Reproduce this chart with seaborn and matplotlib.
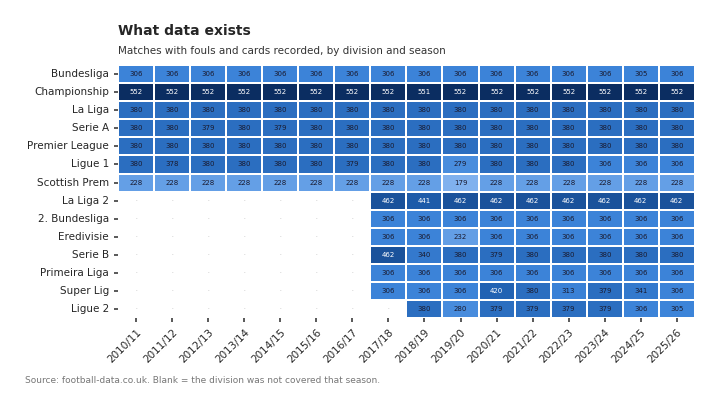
import numpy as np
import pandas as pd
import matplotlib
matplotlib.use("Agg")
import matplotlib.pyplot as plt
from matplotlib.colors import LinearSegmentedColormap
import seaborn as sns

sns.set_theme(style="white")

seasons = ["2010/11", "2011/12", "2012/13", "2013/14", "2014/15", "2015/16", "2016/17", "2017/18",
           "2018/19", "2019/20", "2020/21", "2021/22", "2022/23", "2023/24", "2024/25", "2025/26"]
divisions = ["Bundesliga", "Championship", "La Liga", "Serie A", "Premier League", "Ligue 1",
             "Scottish Prem", "La Liga 2", "2. Bundesliga", "Eredivisie", "Serie B",
             "Primeira Liga", "Super Lig", "Ligue 2"]
n = np.nan
bundesliga = [306] * 14 + [305, 306]
championship = [552] * 8 + [551] + [552] * 7
la_liga = [380] * 16
serie_a = [380, 380, 379, 380, 379] + [380] * 11
premier_league = [380] * 16
ligue_1 = [380, 378, 380, 380, 380, 380, 379, 380, 380, 279, 380, 380, 380, 306, 306, 306]
scottish_prem = [228] * 9 + [179] + [228] * 6
la_liga_2 = [n] * 7 + [462, 441, 462, 462, 462, 462, 462, 462, 462]
bundesliga_2 = [n] * 7 + [306] * 9
eredivisie = [n] * 7 + [306, 306, 232, 306, 306, 306, 306, 306, 306]
serie_b = [n] * 7 + [462, 340, 380, 379, 380, 380, 380, 380, 380]
primeira_liga = [n] * 7 + [306] * 9
super_lig = [n] * 7 + [306, 306, 306, 420, 380, 313, 379, 341, 306]
ligue_2 = [n] * 8 + [380, 280, 379, 379, 379, 379, 306, 305]

rows = [bundesliga, championship, la_liga, serie_a, premier_league, ligue_1, scottish_prem,
        la_liga_2, bundesliga_2, eredivisie, serie_b, primeira_liga, super_lig, ligue_2]
df = pd.DataFrame(rows, index=divisions, columns=seasons)

cmap = LinearSegmentedColormap.from_list(
    "cov", ["#84b4ef", "#3d85da", "#1f5fb0", "#0a2a5c"])

fig = plt.figure(figsize=(7.2, 4.09), dpi=100)
ax = fig.add_axes([0.164, 0.222, 0.801, 0.619])
sns.heatmap(df, ax=ax, cmap=cmap, vmin=170, vmax=560, cbar=False, linewidths=1.2,
            linecolor="white", annot=False)

vals = df.values
for i in range(vals.shape[0]):
    for j in range(vals.shape[1]):
        v = vals[i, j]
        if np.isnan(v):
            ax.text(j + 0.5, i + 0.5, "·", ha="center", va="center", fontsize=4, color="#999999")
        else:
            ax.text(j + 0.5, i + 0.5, f"{int(v)}", ha="center", va="center", fontsize=5,
                    color="white" if v >= 400 else "#1a1a2e")

ax.set_xlabel("")
ax.set_ylabel("")
ax.tick_params(axis="both", length=3, color="#444444", labelsize=7.5, left=True, bottom=True)
plt.setp(ax.get_xticklabels(), rotation=45, ha="right", rotation_mode="anchor")
plt.setp(ax.get_yticklabels(), rotation=0)

fig.text(0.164, 0.925, "What data exists", fontsize=10, fontweight="bold", ha="left", va="center")
fig.text(0.164, 0.875, "Matches with fouls and cards recorded, by division and season",
         fontsize=7.5, color="#333333", ha="left", va="center")
fig.text(0.035, 0.07, "Source: football-data.co.uk. Blank = the division was not covered that season.",
         fontsize=6.5, color="#777777", ha="left", va="center")

fig.savefig("out.png", dpi=100)
